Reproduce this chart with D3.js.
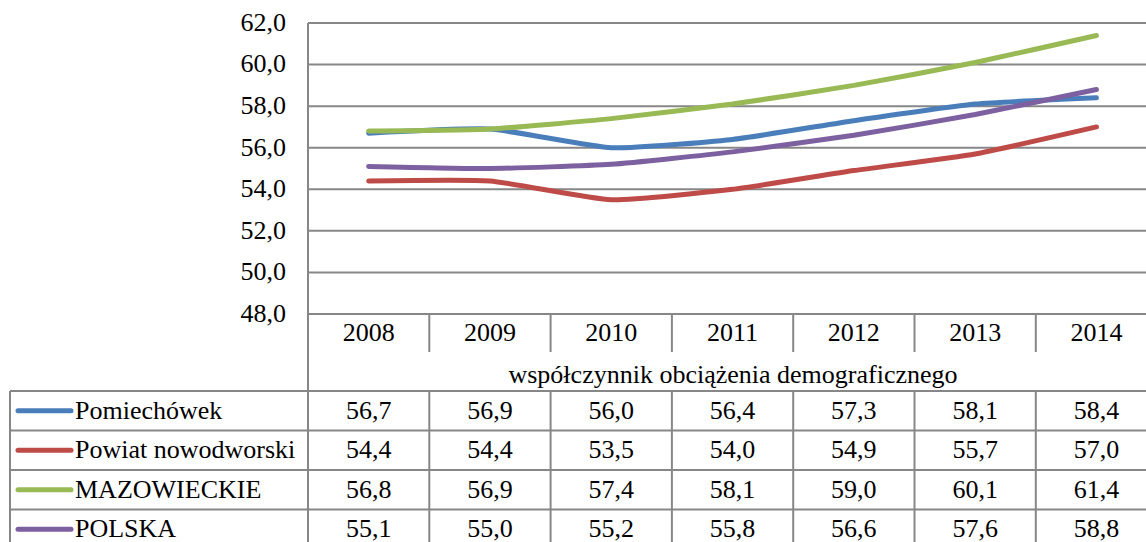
<!DOCTYPE html>
<html>
<head>
<meta charset="utf-8">
<script src="https://cdn.jsdelivr.net/npm/d3@7"></script>
<style>
	body { margin: 0; background: #fff; }
	text { font-family: "Times New Roman", "Liberation Serif", "DejaVu Serif", "Noto Serif", serif; }
</style>
</head>
<body>
<script>
//chart data
var years = ["2008", "2009", "2010", "2011", "2012", "2013", "2014"];
var seriesNames = ["Pomiechówek", "Powiat nowodworski", "MAZOWIECKIE", "POLSKA"];
var pomiechowek = [56.7, 56.9, 56.0, 56.4, 57.3, 58.1, 58.4];
var powiat = [54.4, 54.4, 53.5, 54.0, 54.9, 55.7, 57.0];
var mazowieckie = [56.8, 56.9, 57.4, 58.1, 59.0, 60.1, 61.4];
var polska = [55.1, 55.0, 55.2, 55.8, 56.6, 57.6, 58.8];
var yTicks = [48, 50, 52, 54, 56, 58, 60, 62];
var tableTitle = "współczynnik obciążenia demograficznego";
var colors = ["#4a7ebb", "#be4b48", "#98b954", "#7d60a0"];

window.onload = drawChart();

function drawChart(){
	var width = 1146,
		height = 542;

	var svg = d3.select("body")
		.append("svg")
		.attr("width", width)
		.attr("height", height)
		.attr("font-size", "26px");

	var series = [pomiechowek, powiat, mazowieckie, polska];
	var fmt = function(v){ return d3.format(".1f")(v).replace(".", ","); };

	//scales
	var left = 308, colW = 121.3;
	var x = d3.scaleBand()
		.domain(years)
		.range([left, left + colW * years.length]);
	var y = d3.scaleLinear()
		.domain([48, 62])
		.range([314, 23]);

	var gridColor = "#878787";

	//horizontal gridlines
	svg.selectAll(".grid")
		.data(yTicks)
		.enter()
		.append("line")
		.attr("class", "grid")
		.attr("x1", left)
		.attr("x2", width)
		.attr("y1", function(d){ return y(d); })
		.attr("y2", function(d){ return y(d); })
		.attr("stroke", gridColor)
		.attr("stroke-width", 2);

	//y tick labels
	svg.selectAll(".ylab")
		.data(yTicks)
		.enter()
		.append("text")
		.attr("class", "ylab")
		.attr("x", 286)
		.attr("y", function(d){ return y(d); })
		.attr("dy", "0.3em")
		.attr("text-anchor", "end")
		.text(fmt);

	//vertical axis line, down through the table
	svg.append("line")
		.attr("x1", left).attr("x2", left)
		.attr("y1", 23).attr("y2", height)
		.attr("stroke", gridColor)
		.attr("stroke-width", 2);

	//year row separators
	svg.selectAll(".ysep")
		.data(years.slice(1))
		.enter()
		.append("line")
		.attr("x1", function(d){ return x(d); })
		.attr("x2", function(d){ return x(d); })
		.attr("y1", 314).attr("y2", 352)
		.attr("stroke", gridColor)
		.attr("stroke-width", 2);

	svg.selectAll(".year")
		.data(years)
		.enter()
		.append("text")
		.attr("x", function(d){ return x(d) + x.bandwidth() / 2; })
		.attr("y", 333)
		.attr("dy", "0.3em")
		.attr("text-anchor", "middle")
		.text(function(d){ return d; });

	//table title row
	svg.append("text")
		.attr("x", 733)
		.attr("y", 375)
		.attr("dy", "0.3em")
		.attr("text-anchor", "middle")
		.text(tableTitle);

	//lines
	var line = d3.line()
		.x(function(d, i){ return x(years[i]) + x.bandwidth() / 2; })
		.y(function(d){ return y(d); })
		.curve(d3.curveCardinal.tension(0.5));

	svg.selectAll(".series")
		.data(series)
		.enter()
		.append("path")
		.attr("class", "series")
		.attr("d", line)
		.attr("fill", "none")
		.attr("stroke", function(d, i){ return colors[i]; })
		.attr("stroke-width", 5)
		.attr("stroke-linecap", "round")
		.attr("stroke-linejoin", "round");

	//data table
	var rowTop = 391, rowH = 39.5, tableLeft = 10;
	var rowY = function(i){ return rowTop + i * rowH; };

	svg.selectAll(".hrow")
		.data(d3.range(series.length + 1))
		.enter()
		.append("line")
		.attr("x1", tableLeft).attr("x2", width)
		.attr("y1", function(i){ return rowY(i); })
		.attr("y2", function(i){ return rowY(i); })
		.attr("stroke", gridColor)
		.attr("stroke-width", 2);

	svg.append("line")
		.attr("x1", tableLeft).attr("x2", tableLeft)
		.attr("y1", rowTop).attr("y2", height)
		.attr("stroke", gridColor)
		.attr("stroke-width", 2);

	svg.selectAll(".tsep")
		.data(years.slice(1))
		.enter()
		.append("line")
		.attr("x1", function(d){ return x(d); })
		.attr("x2", function(d){ return x(d); })
		.attr("y1", rowTop).attr("y2", height)
		.attr("stroke", gridColor)
		.attr("stroke-width", 2);

	var rows = svg.selectAll(".trow")
		.data(series)
		.enter()
		.append("g")
		.attr("class", "trow");

	rows.append("line")
		.attr("x1", 18).attr("x2", 71)
		.attr("y1", function(d, i){ return rowY(i) + rowH / 2; })
		.attr("y2", function(d, i){ return rowY(i) + rowH / 2; })
		.attr("stroke", function(d, i){ return colors[i]; })
		.attr("stroke-width", 5)
		.attr("stroke-linecap", "round");

	rows.append("text")
		.attr("x", 75)
		.attr("y", function(d, i){ return rowY(i) + rowH / 2; })
		.attr("dy", "0.3em")
		.text(function(d, i){ return seriesNames[i]; });

	rows.each(function(d, i){
		d3.select(this).selectAll(".val")
			.data(d)
			.enter()
			.append("text")
			.attr("x", function(v, j){ return x(years[j]) + x.bandwidth() / 2; })
			.attr("y", rowY(i) + rowH / 2)
			.attr("dy", "0.3em")
			.attr("text-anchor", "middle")
			.text(fmt);
	});
};
</script>
</body>
</html>
